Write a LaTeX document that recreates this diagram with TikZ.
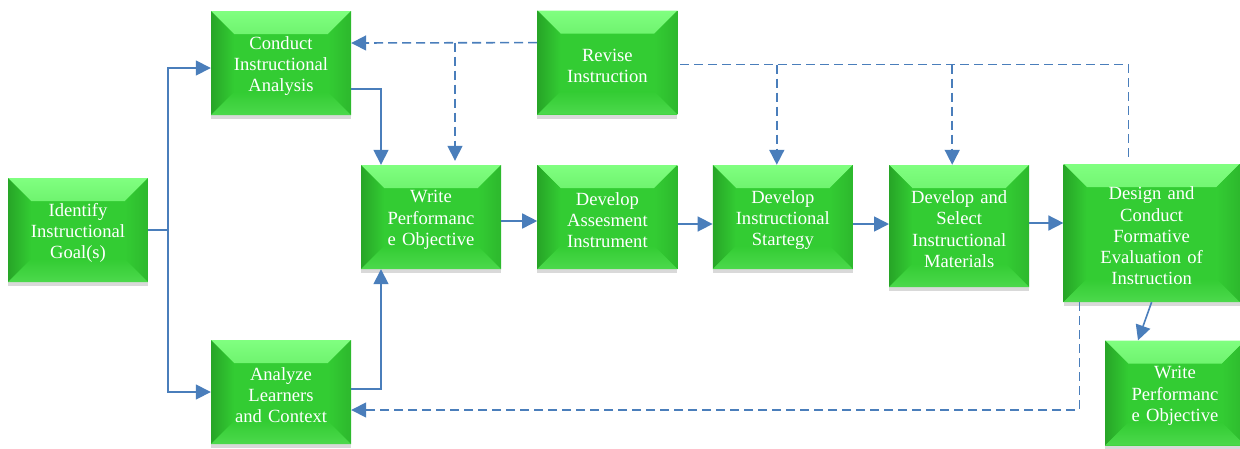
\documentclass[tikz,border=0pt]{standalone}
\usepackage{tikz}
\usepackage{xcolor}
\usepackage{fontspec}
\setmainfont{Liberation Serif}
\usetikzlibrary{positioning, arrows.meta, shadows}
\definecolor{boxgreen}{HTML}{33CC33}
\definecolor{bevtop}{HTML}{80FF80}
\definecolor{bevleft}{HTML}{27A527}
\definecolor{bevright}{HTML}{2DB82D}
\definecolor{bevbot}{HTML}{4CD94C}
\definecolor{linkblue}{HTML}{4A7EBB}
\newcommand{\bevelsize}{23pt}
\tikzstyle{stepbox} = [rectangle, minimum width=140pt, minimum height=104pt, text width=132pt, align=center, text=white,
  font=\fontsize{18.6}{21.3}\selectfont, fill=boxgreen, execute at end node={\vspace*{-6pt}},
  drop shadow={shadow xshift=0pt, shadow yshift=-4pt, opacity=0.3},
  path picture={
    \shade[top color=bevtop, bottom color=boxgreen] (path picture bounding box.north west) -- (path picture bounding box.north east)
      -- ([shift={(-\bevelsize,-\bevelsize)}]path picture bounding box.north east) -- ([shift={(\bevelsize,-\bevelsize)}]path picture bounding box.north west) -- cycle;
    \shade[left color=bevleft, right color=boxgreen] (path picture bounding box.north west) -- ([shift={(\bevelsize,-\bevelsize)}]path picture bounding box.north west)
      -- ([shift={(\bevelsize,\bevelsize)}]path picture bounding box.south west) -- (path picture bounding box.south west) -- cycle;
    \shade[right color=bevright, left color=boxgreen] (path picture bounding box.north east) -- ([shift={(-\bevelsize,-\bevelsize)}]path picture bounding box.north east)
      -- ([shift={(-\bevelsize,\bevelsize)}]path picture bounding box.south east) -- (path picture bounding box.south east) -- cycle;
    \shade[bottom color=bevbot, top color=boxgreen] (path picture bounding box.south west) -- (path picture bounding box.south east)
      -- ([shift={(-\bevelsize,\bevelsize)}]path picture bounding box.south east) -- ([shift={(\bevelsize,\bevelsize)}]path picture bounding box.south west) -- cycle;
  }]
\tikzstyle{arrow} = [linkblue, line width=1.6pt, -{Triangle[length=15pt,width=15pt]}]
\tikzstyle{dashline} = [linkblue, line width=1.6pt, dash pattern=on 9pt off 5pt]
\tikzstyle{dasharrow} = [dashline, -{Triangle[length=15pt,width=15pt]}]

\begin{document}
\begin{tikzpicture}[x=1pt, y=-1pt]
    \useasboundingbox (0,0) rectangle (1240,448);
    % boxes
    \node (ident) [stepbox] at (78,230) {Identify\\Instructional\\Goal(s)};
    \node (conduct) [stepbox] at (281,63) {Conduct\\Instructional\\Analysis};
    \node (analyze) [stepbox] at (281,392) {Analyze\\Learners\\and Context};
    \node (write) [stepbox] at (431,217) {Write\\Performanc\\e Objective};
    \node (assess) [stepbox, right=36pt of write] {Develop\\Assesment\\Instrument};
    \node (revise) [stepbox, above=50pt of assess] {Revise\\Instruction};
    \node (strat) [stepbox, right=35pt of assess] {Develop\\Instructional\\Startegy};
    \node (select) [stepbox, minimum height=122pt, right=36pt of strat, yshift=-9pt] {Develop and\\Select\\Instructional\\Materials};
    \node (design) [stepbox, minimum width=176pt, minimum height=138pt, text width=160pt, right=34pt of select, yshift=-7pt] {Design and\\Conduct\\Formative\\Evaluation of\\Instruction};
    \node (write2) [stepbox, minimum height=105pt] at (1175,393) {Write\\Performanc\\e Objective};
    % solid links
    \coordinate (split) at ([xshift=20pt]ident.east);
    \draw[arrow] (ident.east) -- (split) |- ([yshift=-5pt]conduct.west);
    \draw[arrow] (split) |- (analyze.west);
    \draw[arrow] ([yshift=-26pt]conduct.east) -| ([xshift=-50pt]write.north);
    \draw[arrow] ([yshift=3pt]analyze.east) -| ([xshift=-50pt]write.south);
    \draw[arrow] ([yshift=-4pt]write.east) -- ([yshift=-4pt]assess.west);
    \draw[arrow] ([yshift=-7pt]assess.east) -- ([yshift=-7pt]strat.west);
    \draw[arrow] ([yshift=-7pt]strat.east) -- ([yshift=-7pt]strat.east -| select.west);
    \draw[arrow] ([yshift=3pt]select.east) -- ([yshift=3pt]select.east -| design.west);
    \draw[arrow] (design.south) -- ([xshift=-37pt]write2.north);
    % feedback links
    \coordinate (fb1) at ([yshift=20pt]revise.west);
    \coordinate (wtop) at ([xshift=24pt,yshift=4pt]write.north);
    \draw[dasharrow] (fb1) -- ([yshift=20pt]conduct.east);
    \draw[dasharrow] (fb1 -| wtop) -- (wtop);
    \coordinate (fb2) at ([xshift=-23pt,yshift=7pt]design.north);
    \draw[dashline] (fb2) |- ([yshift=-2pt]revise.east);
    \draw[dasharrow] ([yshift=-2pt]revise.east -| strat.north) ++(-6pt,0) -- ([xshift=-6pt]strat.north);
    \draw[dasharrow] ([yshift=-2pt]revise.east -| select.north) ++(-7pt,0) -- ([xshift=-7pt]select.north);
    \draw[dasharrow] ([xshift=16pt]design.south west) |- ([yshift=-18pt]analyze.east);
\end{tikzpicture}
\end{document}
